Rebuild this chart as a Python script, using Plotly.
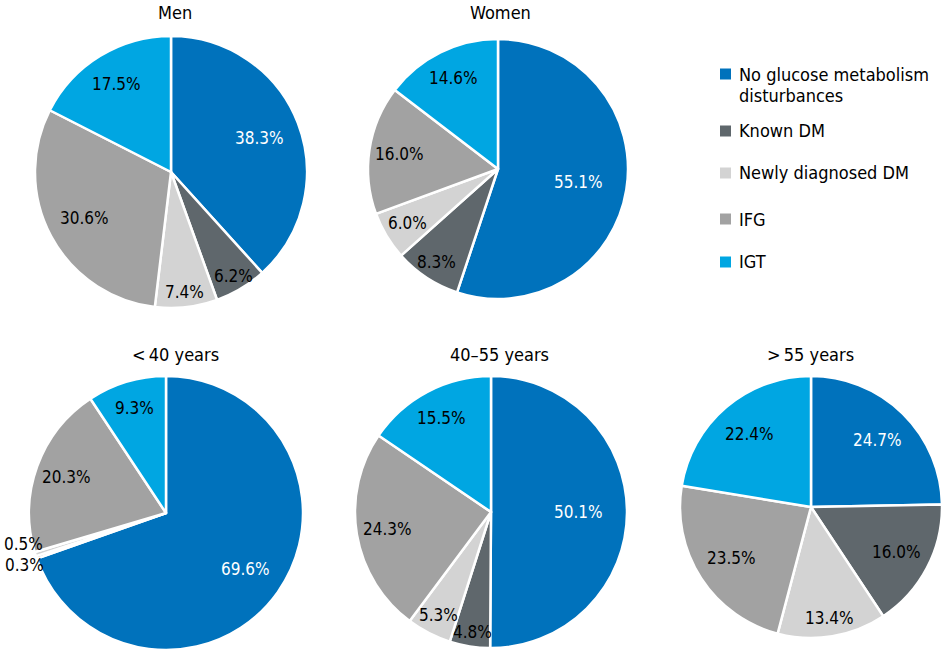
import math
import plotly.graph_objects as go

categories = ["No glucose metabolism disturbances", "Known DM", "Newly diagnosed DM", "IFG", "IGT"]
legend_labels = ["No glucose metabolism<br>disturbances", "Known DM", "Newly diagnosed DM", "IFG", "IGT"]
colors = ["#0072bc", "#5f676c", "#d3d3d3", "#a2a2a2", "#00a6e2"]

men = [38.3, 6.2, 7.4, 30.6, 17.5]
women = [55.1, 8.3, 6.0, 16.0, 14.6]
under40 = [69.6, 0.3, 0.5, 20.3, 9.3]
age40_55 = [50.1, 4.8, 5.3, 24.3, 15.5]
over55 = [24.7, 16.0, 13.4, 23.5, 22.4]

titles = ["Men", "Women", "&lt;\u200940 years", "40–55 years", "&gt;\u200955 years"]
series = [men, women, under40, age40_55, over55]

W, H = 950, 672
FONT = "DejaVu Sans Condensed, Liberation Sans Narrow, Roboto, Arial"

# layout (pixels): pie centre x, centre y, radius; title position
geo = [(171, 172, 136), (498, 169, 130), (166, 513, 137), (491, 512, 136), (811, 507, 131)]
title_pos = [(175, 12), (500, 12), (175, 354), (499, 354), (810, 354)]
# style: radial position of each slice label as a fraction of the radius
label_fracs = [
    [0.70, 0.89, 0.89, 0.72, 0.76],
    [0.63, 0.86, 0.81, 0.77, 0.78],
    [0.71, 1.00, 1.00, 0.77, 0.80],
    [0.64, 0.89, 0.85, 0.77, 0.78],
    [0.72, 0.74, 0.86, 0.72, 0.73],
]

fig = go.Figure()
for vals, (cx, cy, r), ttl, (tx, ty), fracs in zip(series, geo, titles, title_pos, label_fracs):
    fig.add_trace(go.Pie(
        labels=categories, values=vals, sort=False, direction="clockwise", rotation=0,
        marker=dict(colors=colors, line=dict(color="white", width=2.5)),
        textinfo="none",
        domain=dict(x=[(cx - r) / W, (cx + r) / W], y=[(H - cy - r) / H, (H - cy + r) / H]),
        showlegend=False, hoverinfo="label+percent",
    ))
    fig.add_annotation(x=tx / W, y=1 - ty / H, xref="paper", yref="paper", text=ttl,
                       showarrow=False, font=dict(size=18, color="black", family=FONT),
                       xanchor="center", yanchor="middle")
    # slice labels, positioned from the cumulative values
    total = sum(vals)
    cum = 0.0
    tiny_k = 0
    for i, (v, f) in enumerate(zip(vals, fracs)):
        a = 2 * math.pi * (cum + v / 2) / total
        cum += v
        txt = f"{v:.1f}%"
        if v < 1:
            px = cx + f * r * math.sin(a) + 10
            py = cy - f * r * math.cos(a) + (8 if tiny_k == 0 else -10)
            tiny_k += 1
            fig.add_annotation(x=px / W, y=1 - py / H, xref="paper", yref="paper", text=txt,
                               showarrow=False, xanchor="right", yanchor="middle",
                               font=dict(size=17, color="black", family=FONT))
            continue
        px = cx + f * r * math.sin(a)
        py = cy - f * r * math.cos(a)
        fig.add_annotation(x=px / W, y=1 - py / H, xref="paper", yref="paper", text=txt,
                           showarrow=False, xanchor="center", yanchor="middle",
                           font=dict(size=17, color="white" if i == 0 else "black", family=FONT))

# legend drawn as squares + text
leg_y = [74, 131, 173, 219, 262]
for lab, col, y in zip(legend_labels, colors, leg_y):
    fig.add_shape(type="rect", xref="paper", yref="paper",
                  x0=720 / W, x1=731 / W, y0=1 - (y + 5.5) / H, y1=1 - (y - 5.5) / H,
                  fillcolor=col, line=dict(width=0))
    for k, line in enumerate(lab.split("<br>")):
        fig.add_annotation(x=737 / W, y=1 - (y + 21 * k) / H, xref="paper", yref="paper", text=line,
                           showarrow=False, align="left", xanchor="left", yanchor="middle",
                           font=dict(size=18, color="black", family=FONT))

fig.update_layout(width=W, height=H, margin=dict(l=0, r=0, t=0, b=0),
                  paper_bgcolor="white", plot_bgcolor="white", font=dict(family=FONT))
fig.write_html("out.html")
